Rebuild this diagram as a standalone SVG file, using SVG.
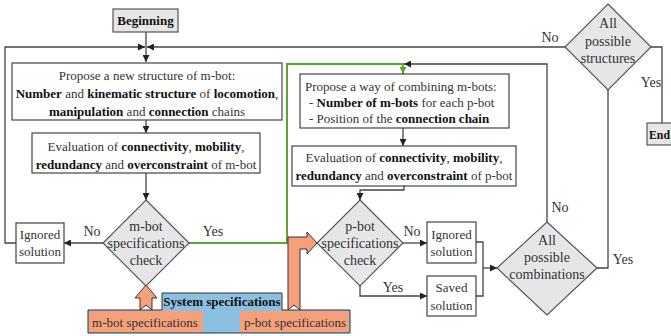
<svg xmlns="http://www.w3.org/2000/svg" width="671" height="336" viewBox="0 0 671 336" font-family="'Liberation Serif', 'DejaVu Serif', serif">
<defs>
<marker id="ah" viewBox="0 0 10 10" refX="10" refY="5" markerWidth="8" markerHeight="7" markerUnits="userSpaceOnUse" orient="auto">
<path d="M0,0 L10,5 L0,10 Z" fill="#222"/>
</marker>
<marker id="ahg" viewBox="0 0 10 10" refX="10" refY="5" markerWidth="8" markerHeight="7" markerUnits="userSpaceOnUse" orient="auto">
<path d="M0,0 L10,5 L0,10 Z" fill="#5aa832"/>
</marker>
</defs>
<style>
text{font-family:'Liberation Serif','Times New Roman',serif;font-size:14px;fill:#333;}
.s{font-size:13px;}
.b{font-weight:bold;fill:#111;}
.c{text-anchor:middle;}
.box{fill:#fff;stroke:#444;stroke-width:1.2;}
.gbox{fill:#e6e6e6;stroke:#555;stroke-width:1.2;}
.dia{fill:#e6e6e6;stroke:#555;stroke-width:1.2;}
.ln{fill:none;stroke:#444;stroke-width:1.3;}
.lna{fill:none;stroke:#444;stroke-width:1.3;marker-end:url(#ah);}
.green{fill:none;stroke:#5aa832;stroke-width:2;marker-end:url(#ahg);}
.or{fill:#f5a07a;}
.orl{fill:#f5a07a;stroke:#333;stroke-width:1;}
</style>

<g id="connectors">
<path class="lna" d="M146,32 V62"/>
<path class="lna" d="M16,243 H5 V47 H145"/>
<path class="lna" d="M565,47 H147"/>
<path class="lna" d="M146,120 V133"/>
<path class="lna" d="M146,173 V200"/>
<path class="lna" d="M103,243 H64"/>
<path class="green" d="M189,243 H287 V64 H403 V74"/>
<path class="lna" d="M547,222 V64 H404"/>
<path class="lna" d="M403,128 V146"/>
<path class="lna" d="M404,186 V190 H360 V200"/>
<path class="lna" d="M402,243 H427"/>
<path class="lna" d="M360,285 V296 H427"/>
<path class="ln" d="M476,242 H483 V296 H476"/>
<path class="lna" d="M483,268 H497"/>
<path class="ln" d="M597,268 H608 V90"/>
<path class="ln" d="M651,47 H662 V123"/>
<text x="92" y="236" class="c">No</text>
<text x="213" y="236" class="c">Yes</text>
<text x="412" y="236" class="c">No</text>
<text x="393" y="292" class="c">Yes</text>
<text x="560" y="212" class="c">No</text>
<text x="623" y="264" class="c">Yes</text>
<text x="550" y="42" class="c">No</text>
<text x="651" y="87" class="c">Yes</text>
</g>

<g id="beginning">
<rect class="gbox" x="113" y="9" width="65" height="23"/>
<text x="145.5" y="25" class="c b s">Beginning</text>
</g>

<g id="end">
<rect class="gbox" x="647" y="123" width="40" height="22"/>
<text x="649" y="139" class="b s" textLength="21" lengthAdjust="spacingAndGlyphs">End</text>
</g>

<g id="propose-mbot">
<rect class="box" x="12" y="63" width="270" height="57"/>
<text x="147" y="80" class="c s">Propose a new structure of m-bot:</text>
<text x="147" y="98" class="c s"><tspan class="b">Number</tspan> and <tspan class="b">kinematic structure</tspan> of <tspan class="b">locomotion</tspan>,</text>
<text x="147" y="116" class="c s"><tspan class="b">manipulation</tspan> and <tspan class="b">connection</tspan> chains</text>
</g>

<g id="eval-mbot">
<rect class="box" x="32" y="133" width="228" height="40"/>
<text x="146" y="151" class="c s">Evaluation of <tspan class="b">connectivity</tspan>, <tspan class="b">mobility</tspan>,</text>
<text x="146" y="169" class="c s"><tspan class="b">redundancy</tspan> and <tspan class="b">overconstraint</tspan> of m-bot</text>
</g>

<g id="check-mbot">
<path class="dia" d="M146,200 L189,243 L146,286 L103,243 Z"/>
<text x="146" y="231" class="c">m-bot</text>
<text x="146" y="248" class="c">specifications</text>
<text x="146" y="265" class="c">check</text>
</g>

<g id="ignored-mbot">
<rect class="box" x="16" y="223" width="48" height="40"/>
<text x="40" y="239" class="c s">Ignored</text>
<text x="40" y="256" class="c s">solution</text>
</g>

<g id="propose-pbot">
<rect class="box" x="300" y="74" width="209" height="54"/>
<text x="305" y="91" class="s">Propose a way of combining m-bots:</text>
<text x="309" y="107" class="s">- <tspan class="b">Number of m-bots</tspan> for each p-bot</text>
<text x="309" y="123" class="s">- Position of the <tspan class="b">connection chain</tspan></text>
</g>

<g id="eval-pbot">
<rect class="box" x="292" y="146" width="224" height="40"/>
<text x="404" y="162" class="c s">Evaluation of <tspan class="b">connectivity</tspan>, <tspan class="b">mobility</tspan>,</text>
<text x="404" y="180" class="c s"><tspan class="b">redundancy</tspan> and <tspan class="b">overconstraint</tspan> of p-bot</text>
</g>

<g id="check-pbot">
<path class="dia" d="M360,200 L403,243 L360,286 L317,243 Z"/>
<text x="360" y="231" class="c">p-bot</text>
<text x="360" y="248" class="c">specifications</text>
<text x="360" y="265" class="c">check</text>
</g>

<g id="ignored-pbot">
<rect class="box" x="427" y="222" width="49" height="41"/>
<text x="451.5" y="239" class="c s">Ignored</text>
<text x="451.5" y="256" class="c s">solution</text>
</g>

<g id="saved-pbot">
<rect class="box" x="427" y="276" width="49" height="40"/>
<text x="451.5" y="292" class="c s">Saved</text>
<text x="451.5" y="310" class="c s">solution</text>
</g>

<g id="all-combinations">
<path class="dia" d="M547,222 L597,268 L547,315 L497,268 Z"/>
<text x="547" y="245" class="c">All</text>
<text x="547" y="262" class="c">possible</text>
<text x="547" y="279" class="c">combinations</text>
</g>

<g id="all-structures">
<path class="dia" d="M608,4 L651,47 L608,90 L565,47 Z"/>
<text x="608" y="28" class="c">All</text>
<text x="608" y="46" class="c">possible</text>
<text x="608" y="63" class="c">structures</text>
</g>

<g id="system-specs">
<path d="M88,310 H162 V293 H282 V310 H350 V333 H88 Z" fill="#8cc0e3" stroke="#333" stroke-width="1"/>
<rect class="or" x="89" y="311" width="114" height="21"/>
<rect class="or" x="240" y="311" width="109" height="21"/>
<text x="222" y="306" class="c b s">System specifications</text>
<text x="145" y="327" class="c s">m-bot specifications</text>
<text x="295" y="327" class="c s">p-bot specifications</text>
<path class="orl" d="M140,310 L146,305 L152,310 V298 H157 L146,285 L135,298 H140 Z"/>
<path class="orl" d="M288,310 L294,305 L300,310 V249 H307 V254 L317,243 L307,232 V237 H288 Z"/>
</g>
</svg>
